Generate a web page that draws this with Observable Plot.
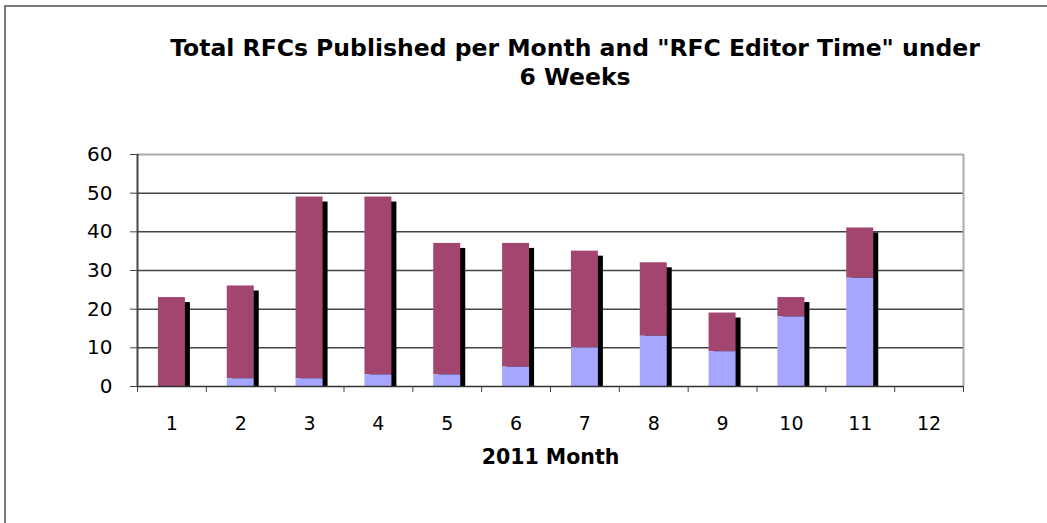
<!DOCTYPE html>
<html>
<head>
<meta charset="utf-8">
<script src="https://cdn.jsdelivr.net/npm/d3@7"></script>
<script src="https://cdn.jsdelivr.net/npm/@observablehq/plot@0.6"></script>
<style>
  html, body { margin: 0; padding: 0; background: #fff; }
  #wrap { position: relative; width: 1047px; height: 523px; overflow: hidden; font-family: "DejaVu Sans", Verdana, sans-serif; }
  #frame { position: absolute; left: 4px; top: 5px; width: 1100px; height: 600px; border-top: 2px solid #7a7a7a; border-left: 2px solid #7a7a7a; }
  #title { position: absolute; left: 75px; width: 1000px; top: 34px; text-align: center; font-weight: bold; font-size: 23.5px; line-height: 29px; color: #000; }
  #chart { position: absolute; left: 0; top: 0; }
</style>
</head>
<body>
<div id="wrap">
  <div id="frame"></div>
  <div id="chart"></div>
  <div id="title">Total RFCs Published per Month and "RFC Editor Time" under<br>6 Weeks</div>
</div>
<script>
const months = [1, 2, 3, 4, 5, 6, 7, 8, 9, 10, 11, 12];
const totalRFCs = [23, 26, 49, 49, 37, 37, 35, 32, 19, 23, 41, 0];
const underSixWeeks = [0, 2, 2, 3, 3, 5, 10, 13, 9, 18, 28, 0];
const yTicks = [0, 10, 20, 30, 40, 50, 60];
const xTitle = "2011 Month";

const rows = months.map((m, i) => ({month: m, total: totalRFCs[i], under: underSixWeeks[i]}));
const half = 0.196;
const boundaries = months.map(m => m - 0.5).concat([months[months.length - 1] + 0.5]);

const chart = Plot.plot({
  width: 1047,
  height: 523,
  marginLeft: 137,
  marginRight: 84,
  marginTop: 154,
  marginBottom: 137,
  style: {fontFamily: "'DejaVu Sans', Verdana, sans-serif", fontSize: "19px", color: "#000", background: "transparent"},
  x: {type: "linear", domain: [0.5, 12.5]},
  y: {domain: [0, 60]},
  marks: [
    Plot.ruleY(yTicks.filter(t => t > 0 && t < 60), {stroke: "#444", strokeWidth: 1.5}),
    Plot.ruleY([60], {stroke: "#aaa", strokeWidth: 2}),
    Plot.ruleX([12.5], {stroke: "#aaa", strokeWidth: 2}),
    Plot.rectY(rows.filter(d => d.total > 0), {x1: d => d.month - half, x2: d => d.month + half, y1: 0, y2: "total", fill: "#000", dx: 5, insetTop: 5}),
    Plot.rectY(rows.filter(d => d.total > 0), {x1: d => d.month - half, x2: d => d.month + half, y1: "under", y2: "total", fill: "#A3466F"}),
    Plot.rectY(rows.filter(d => d.under > 0), {x1: d => d.month - half, x2: d => d.month + half, y1: 0, y2: "under", fill: "#A6A6FF"}),
    Plot.ruleY([0], {stroke: "#333", strokeWidth: 1.5}),
    Plot.ruleX([0.5], {stroke: "#444", strokeWidth: 2}),
    Plot.axisY(yTicks, {tickSize: 7, tickPadding: 18, stroke: "#444", fontSize: 20, label: null}),
    Plot.axisX(boundaries, {tickSize: 6, tickFormat: () => "", stroke: "#444", label: null}),
    Plot.axisX(months, {tickSize: 0, tickPadding: 30, fontSize: 19, label: null}),
    Plot.text([xTitle], {frameAnchor: "bottom", dy: 77, fontWeight: "bold", fontSize: 20.5, fill: "#000"})
  ]
});
document.getElementById("chart").appendChild(chart);
</script>
</body>
</html>
